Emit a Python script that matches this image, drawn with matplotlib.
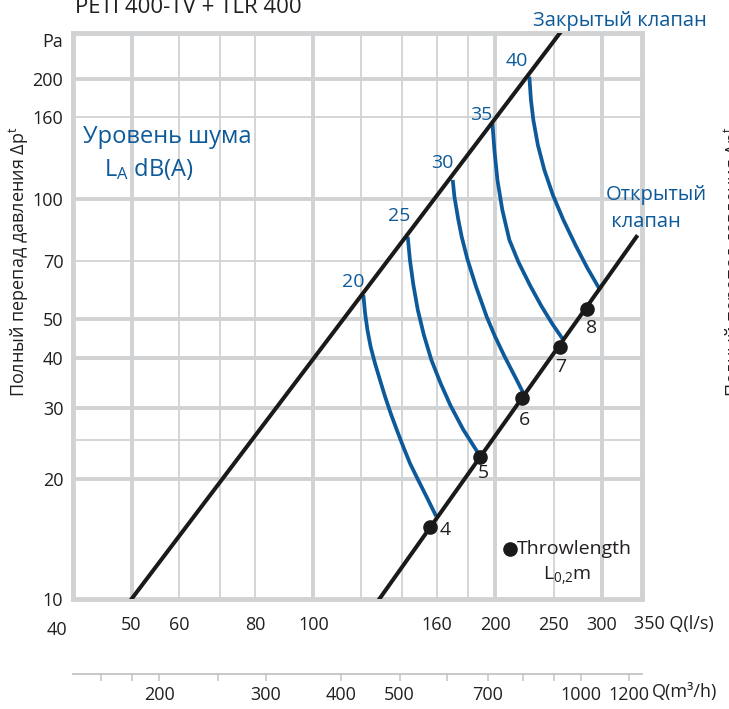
import matplotlib
matplotlib.use('Agg')
import matplotlib.pyplot as plt
import matplotlib.transforms as mtransforms
from matplotlib.ticker import NullLocator, FixedLocator, NullFormatter

plt.rcParams['font.family'] = ['Open Sans', 'DejaVu Sans']
plt.rcParams['mathtext.fontset'] = 'custom'
plt.rcParams['mathtext.rm'] = 'Open Sans'
plt.rcParams['mathtext.it'] = 'Open Sans:italic'
plt.rcParams['mathtext.bf'] = 'Open Sans:bold'

# valve characteristics, Q in l/s, dp in Pa
closed_q = [50, 256]
closed_dp = [10, 260]
open_q = [128.6, 342.6]
open_dp = [10, 80.4]

# throw length points on the open valve line
throw_m = [4, 5, 6, 7, 8]
throw_q = [156.2, 189.1, 221.8, 256.5, 284.1]
throw_dp = [15.1, 22.6, 31.8, 42.7, 53.1]

# sound level curves LA dB(A)
noise_db = [20, 25, 30, 35, 40]
noise_q = [
    [121.0, 121.8, 122.9, 124.4, 126.5, 128.9, 131.4, 134.3, 137.4, 140.9, 144.6, 149.2, 154.0, 159.7],
    [143.3, 144.5, 146.4, 148.9, 152.4, 156.8, 162.3, 168.6, 177.1, 188.3],
    [170.1, 171.2, 173.8, 176.0, 179.9, 185.9, 193.6, 199.9, 207.1, 215.8, 222.7],
    [197.9, 199.4, 201.7, 205.5, 211.1, 218.5, 228.7, 238.5, 248.7, 259.4],
    [227.8, 229.2, 231.3, 235.3, 241.2, 249.2, 259.4, 271.6, 284.2, 298.4],
]
noise_dp = [
    [57.5, 51.8, 47.0, 42.7, 38.8, 35.3, 32.1, 29.1, 26.5, 24.0, 21.8, 19.8, 18.0, 16.1],
    [80.5, 70.4, 61.0, 52.8, 45.7, 39.6, 34.7, 30.5, 26.5, 22.9],
    [111.6, 101.3, 88.6, 80.5, 70.7, 60.4, 50.8, 45.3, 40.5, 35.9, 32.7],
    [154.6, 132.6, 111.6, 93.9, 79.0, 69.6, 60.6, 54.0, 48.7, 44.4],
    [202.2, 176.8, 157.6, 136.5, 118.2, 102.3, 88.6, 76.7, 67.2, 59.2],
]

x_ticks = [40, 50, 60, 80, 100, 160, 200, 250, 300, 350]
y_ticks = [10, 20, 30, 40, 50, 70, 100, 160, 200]
grid_x_major = [50, 100, 200, 300]
grid_x_minor = [60, 70, 80, 120, 140, 160, 180, 250]
grid_y_major = [20, 30, 40, 50, 100, 200]
grid_y_minor = [25, 70, 160]
m3h_ticks = [200, 300, 400, 500, 700, 1000, 1200]
m3h_minor = [160, 180, 250, 600, 800, 900]

BLUE = '#0d5a9a'
DARK = '#231f20'
GRID = '#d1d2d4'

W, H = 729, 709
fig = plt.figure(figsize=(W / 100, H / 100), dpi=100)
ax = fig.add_axes([73 / W, 1 - 599 / H, (642 - 73) / W, (599 - 33) / H])
ax.set_xscale('log')
ax.set_yscale('log')
ax.set_xlim(40, 350)
ax.set_ylim(10, 260)

for v in grid_x_major:
    ax.axvline(v, color=GRID, lw=2.8, zorder=0)
for v in grid_x_minor:
    ax.axvline(v, color=GRID, lw=1.3, zorder=0)
for v in grid_y_major:
    ax.axhline(v, color=GRID, lw=2.8, zorder=0)
for v in grid_y_minor:
    ax.axhline(v, color=GRID, lw=1.3, zorder=0)
for s in ax.spines.values():
    s.set_color(GRID)
    s.set_linewidth(3.5)

# the last tick carries the unit, written as separate text below
ax.set_xticks(x_ticks)
ax.set_xticklabels([str(t) for t in x_ticks[:-1]] + [''])
ax.set_yticks(y_ticks)
ax.set_yticklabels([str(t) for t in y_ticks])
ax.xaxis.set_minor_locator(NullLocator())
ax.yaxis.set_minor_locator(NullLocator())
ax.tick_params(axis='x', length=0, pad=12, labelsize=13, labelcolor=DARK)
ax.tick_params(axis='y', length=0, pad=7, labelsize=13, labelcolor=DARK)
xl = ax.get_xticklabels()
xl[0].set_transform(xl[0].get_transform() +
                    mtransforms.ScaledTranslation(-0.16, -0.05, fig.dpi_scale_trans))

# curves
label_off = [(-10, 13), (-9, 21), (-10, 17), (-11, 8), (-13, 16)]
for db, q, dp, off in zip(noise_db, noise_q, noise_dp, label_off):
    ax.plot(q, dp, color=BLUE, lw=2.7, zorder=2, solid_capstyle='butt',
            solid_joinstyle='round')
    ax.annotate(str(db), (q[0], dp[0]), xytext=off, textcoords='offset pixels',
                ha='center', va='center', color=BLUE, fontsize=14)

ax.plot(closed_q, closed_dp, color='#1a1a1a', lw=2.9, zorder=3)
ax.plot(open_q, open_dp, color='#1a1a1a', lw=2.9, zorder=3)
ax.plot(throw_q, throw_dp, 'o', color='#1a1a1a', ms=9.5, zorder=4)
num_off = [(15, -3), (3, -16), (2, -22), (0, -20), (4, -19)]
for m, q, dp, off in zip(throw_m, throw_q, throw_dp, num_off):
    ax.annotate(str(m), (q, dp), xytext=off, textcoords='offset pixels',
                ha='center', va='center', color=DARK, fontsize=14)

# second flow axis in m3/h
sec = ax.secondary_xaxis(-0.1325, functions=(lambda q: q * 3.6, lambda m: m / 3.6))
sec.set_xticks(m3h_ticks)
sec.set_xticklabels([str(t) for t in m3h_ticks])
sec.xaxis.set_minor_locator(FixedLocator(m3h_minor))
sec.xaxis.set_minor_formatter(NullFormatter())
sec.tick_params(which='both', direction='out', length=5, width=1.1, color='#c4c4c4',
                labelsize=13, labelcolor=DARK, pad=4)
sec.spines['bottom'].set_color('#c4c4c4')
sec.spines['bottom'].set_linewidth(1.3)

def px(x, y):
    return x / W, 1 - y / H

fig.text(*px(75, 13), 'PETI 400-TV + TLR 400', fontsize=16, color=DARK, va='baseline')
fig.text(*px(63, 42), 'Pa', fontsize=13, color=DARK, ha='right', va='center')
fig.text(*px(19, 262), r'Полный перепад давления Δp$^{\mathrm{t}}$', fontsize=13,
         color=DARK, rotation=90, ha='center', va='center')
fig.text(*px(734, 262), r'Полный перепад давления Δp$^{\mathrm{t}}$', fontsize=13,
         color=DARK, rotation=90, ha='center', va='center')
fig.text(*px(634, 624), '350 Q(l/s)', fontsize=13, color=DARK, va='center')
fig.text(*px(652, 692), 'Q(m³/h)', fontsize=13, color=DARK, va='center')
fig.text(*px(83, 143), 'Уровень шума', fontsize=17, color=BLUE, va='baseline')
fig.text(*px(104, 176), r'L$_{\mathrm{A}}$ dB(A)', fontsize=17, color=BLUE, va='baseline')
fig.text(*px(533, 26), 'Закрытый клапан', fontsize=14.5, color=BLUE, va='baseline')
fig.text(*px(606, 200), 'Открытый', fontsize=14.5, color=BLUE, va='baseline')
fig.text(*px(606, 227), ' клапан', fontsize=14.5, color=BLUE, va='baseline')

ax.plot([(510 - 73) / 569], [(599 - 549) / 566], 'o', color='#1a1a1a', ms=9.5,
        transform=ax.transAxes, zorder=4)
fig.text(*px(517, 549), 'Throwlength', fontsize=14, color=DARK, va='center')
fig.text(*px(567, 576), r'L$_{\mathrm{0{,}2}}$m', fontsize=14, color=DARK,
         ha='center', va='center')

fig.savefig('out.png', dpi=100)
